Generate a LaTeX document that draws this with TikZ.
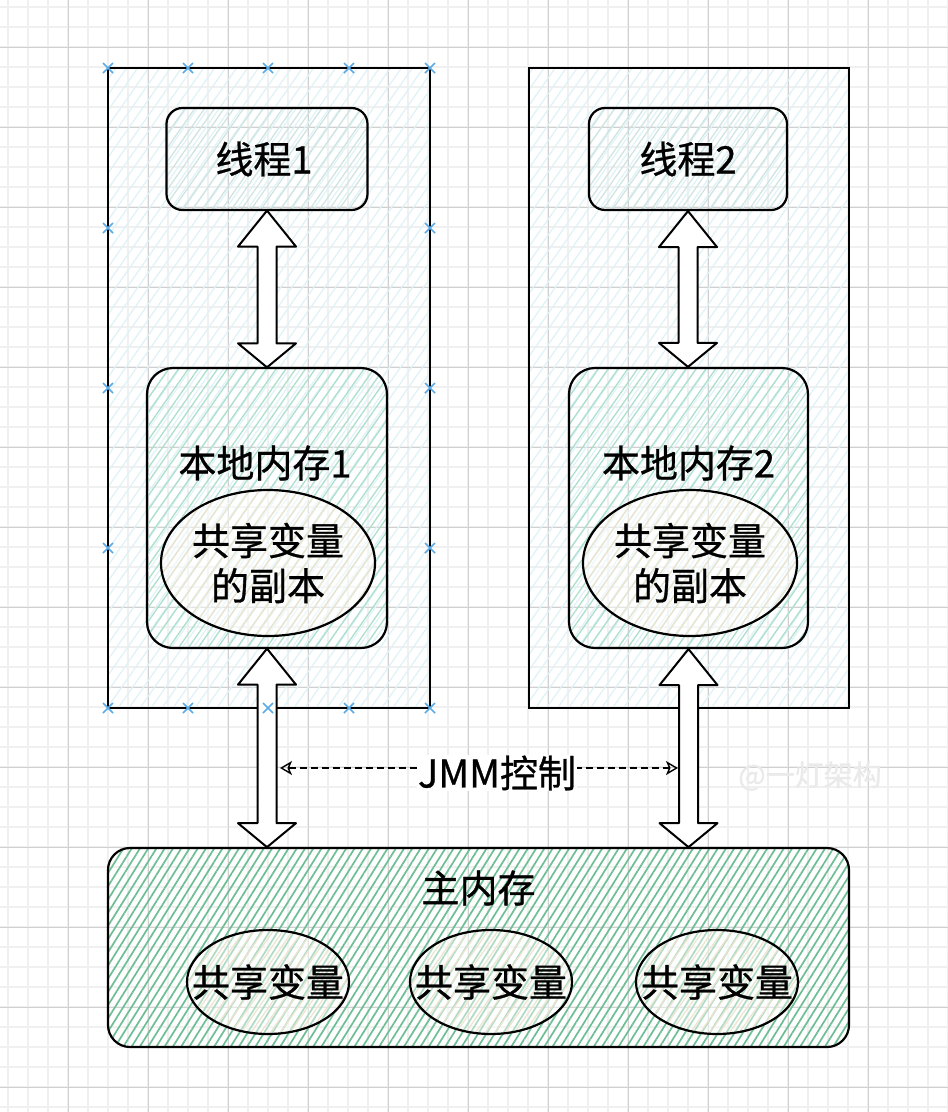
\documentclass[tikz,border=0pt]{standalone}
\usepackage{fontspec}
\setmainfont{Noto Sans CJK SC}[FakeBold=0.8]
\usetikzlibrary{patterns.meta,calc,arrows.meta,shapes.geometric}
\definecolor{gridminor}{RGB}{240,240,240}
\definecolor{gridmajor}{RGB}{208,208,208}
\definecolor{selblue}{RGB}{90,170,230}
\definecolor{outerhatch}{RGB}{222,242,248}
\definecolor{threadhatch}{RGB}{205,228,224}
\definecolor{localhatch}{RGB}{172,224,204}
\definecolor{mainhatch}{RGB}{110,190,148}
\definecolor{varhatch}{RGB}{236,228,206}
\definecolor{wmgray}{RGB}{234,234,234}
\newcommand{\jmmblockarrow}[2]{%
  \draw[barrow] let \p1=(#1), \p2=(#2) in
    (\x1,\y1) -- ({\x1+29pt},{\y1-36pt}) -- ({\x1+9.5pt},{\y1-36pt})
    -- ({\x1+9.5pt},{\y2+24pt}) -- ({\x1+29pt},{\y2+24pt}) -- (\x1,\y2)
    -- ({\x1-29pt},{\y2+24pt}) -- ({\x1-9.5pt},{\y2+24pt})
    -- ({\x1-9.5pt},{\y1-36pt}) -- ({\x1-29pt},{\y1-36pt}) -- cycle;}
\begin{document}
\begin{tikzpicture}[x=1pt,y=-1pt,
  txt/.style={font=\fontsize{38}{46}\selectfont, inner sep=0pt, align=center},
  outerbox/.style={rectangle, draw=black, line width=2.2pt, inner sep=0pt,
    pattern={Lines[angle=55,distance=9pt,line width=1.2pt]}, pattern color=outerhatch},
  threadbox/.style={rectangle, draw=black, line width=2.2pt, rounded corners=16pt, inner sep=0pt,
    pattern={Lines[angle=55,distance=8pt,line width=1.2pt]}, pattern color=threadhatch},
  localbox/.style={rectangle, draw=black, line width=2.2pt, rounded corners=26pt, inner sep=0pt,
    pattern={Lines[angle=55,distance=8pt,line width=1.3pt]}, pattern color=localhatch},
  mainbox/.style={rectangle, draw=black, line width=2.2pt, rounded corners=22pt, inner sep=0pt,
    pattern={Lines[angle=58,distance=7pt,line width=1.7pt]}, pattern color=mainhatch},
  varell/.style={ellipse, draw=black, line width=2.2pt, inner sep=0pt,
    preaction={fill=white, fill opacity=0.45},
    pattern={Lines[angle=55,distance=8pt,line width=1.2pt]}, pattern color=varhatch},
  barrow/.style={draw=black, line width=2pt, fill=white, line join=round},
  jmm/.style={draw=black, line width=1.6pt, dash pattern=on 7pt off 4pt,
    {Stealth[open,length=12pt,width=14pt,inset=3pt,line width=1.4pt]}-{Stealth[open,length=12pt,width=14pt,inset=3pt,line width=1.4pt]}},
  selmark/.style={draw=selblue, line width=1.6pt}
]
\useasboundingbox (0,0) rectangle (948,1112);
\fill[white] (0,0) rectangle (948,1112);
% grid
\foreach \x in {8,28,...,948} \draw[gridminor, line width=1.6pt] (\x,0) -- (\x,1112);
\foreach \y in {7,27,...,1112} \draw[gridminor, line width=1.6pt] (0,\y) -- (948,\y);
\foreach \x in {68,148,...,948} \draw[gridmajor, line width=1pt] (\x,0) -- (\x,1112);
\foreach \y in {47,127,...,1112} \draw[gridmajor, line width=1pt] (0,\y) -- (948,\y);

% outer boxes
\node[outerbox, minimum width=322pt, minimum height=640pt] (o1) at (269,388) {};
\node[outerbox, minimum width=320pt, minimum height=640pt] (o2) at (689,388) {};

% threads
\node[threadbox, minimum width=201pt, minimum height=102pt] (t1) at (267,159) {};
\node[threadbox, minimum width=198pt, minimum height=102pt] (t2) at (688,159) {};
\node[txt] (t1t) at (264,159) {线程1};
\node[txt] (t2t) at (688,159) {线程2};

% local memories
\node[localbox, minimum width=240pt, minimum height=280pt] (lm1) at (267,508) {};
\node[localbox, minimum width=239pt, minimum height=280pt] (lm2) at (688.5,508) {};
\node[txt] (lm1t) at (265,463) {本地内存1};
\node[txt] (lm2t) at (688.5,463) {本地内存2};
\node[varell, minimum width=214pt, minimum height=146pt] (e1) at (268,563) {};
\node[varell, minimum width=214pt, minimum height=146pt] (e2) at (690,563) {};
\node[txt, font=\fontsize{38}{45}\selectfont] (e1t) at (e1) {共享变量\\的副本};
\node[txt, font=\fontsize{38}{45}\selectfont] (e2t) at (e2) {共享变量\\的副本};

% main memory
\node[mainbox, minimum width=741pt, minimum height=199pt] (mm) at (478.5,947.5) {};
\node[txt] (mmt) at (478.5,888) {主内存};
\node[varell, minimum width=162pt, minimum height=104pt] (v1) at (268,982) {};
\node[varell, minimum width=162pt, minimum height=104pt] (v2) at (491,982) {};
\node[varell, minimum width=162pt, minimum height=104pt] (v3) at (717,982) {};
\node[txt] (v1t) at (v1) {共享变量};
\node[txt] (v2t) at (v2) {共享变量};
\node[txt] (v3t) at (v3) {共享变量};

% block arrows
\jmmblockarrow{t1.south}{lm1.north}
\jmmblockarrow{t2.south}{lm2.north}
\jmmblockarrow{lm1.south}{mm.north}
\jmmblockarrow{lm2.south}{mm.north}

% JMM control
\coordinate (jl) at (280,768);
\coordinate (jr) at (678,768);
\draw[jmm] (jl) -- (jr);
\node[txt, fill=white, inner sep=1pt] (jmmt) at (497,773) {JMM控制};

% watermark
\node[font=\fontsize{29}{34}\selectfont, text=wmgray, inner sep=0pt] (wm) at (810,776) {@一灯架构};

% selection markers
\foreach \x in {108,188,268,349,430} {
  \draw[selmark] (\x-5,63) -- (\x+5,73) (\x-5,73) -- (\x+5,63);
  \draw[selmark] (\x-5,703) -- (\x+5,713) (\x-5,713) -- (\x+5,703);
}
\foreach \x in {108,430} \foreach \y in {228,388,548} {
  \draw[selmark] (\x-5,\y-5) -- (\x+5,\y+5) (\x-5,\y+5) -- (\x+5,\y-5);
}
\end{tikzpicture}
\end{document}
